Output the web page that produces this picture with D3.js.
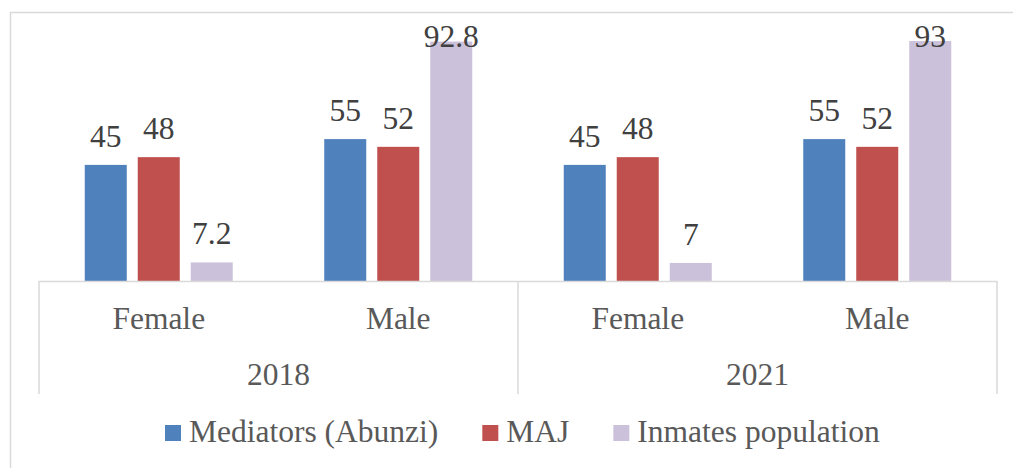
<!DOCTYPE html>
<html>
<head>
<meta charset="utf-8">
<script src="https://cdn.jsdelivr.net/npm/d3@7"></script>
</head>
<body style="margin:0">
<svg id="t" width="1013" height="468"></svg>
<script>
// data
const years = ['2018', '2021'];
const genders = ['Female', 'Male'];
const seriesNames = ['Mediators (Abunzi)', 'MAJ', 'Inmates population'];
const mediators = [45, 55, 45, 55];
const maj = [48, 52, 48, 52];
const inmates = [7.2, 92.8, 7, 93];
const colors = ['#4f81bd', '#c0504d', '#ccc1da'];

const fontFam = "'Liberation Serif', monospace";

// one row per year/gender
const cats = [];
years.forEach(yr => genders.forEach(gd => cats.push({ year: yr, gender: gd })));
const seriesValues = [mediators, maj, inmates];
const rows = cats.map((c, i) => ({
    key: c.year + '-' + c.gender,
    year: c.year,
    gender: c.gender,
    vals: seriesNames.map((s, j) => ({ name: s, value: seriesValues[j][i], color: colors[j] }))
}));

const svg = d3.select('#t');

// outer chart border (runs off right/bottom of the picture)
svg.append('path')
    .attr('d', 'M10.5,468V12.5H1013')
    .attr('fill', 'none')
    .attr('stroke', '#d9d9d9')
    .attr('stroke-width', 1.5);

const left = 39, right = 997, baseY = 281, topY = 23;

const x0 = d3.scaleBand()
    .domain(rows.map(d => d.key))
    .range([left, right])
    .padding(0);
const bw = x0.bandwidth();
const x1 = d3.scaleBand()
    .domain(seriesNames)
    .range([bw / 2 - 74, bw / 2 + 74])
    .paddingInner(11 / 53)
    .paddingOuter(0);
const y = d3.scaleLinear().domain([0, 100]).range([baseY, topY]);

// bars
const g = svg.selectAll('.cat')
    .data(rows)
    .enter()
    .append('g')
    .attr('class', 'cat')
    .attr('transform', d => `translate(${x0(d.key)},0)`);

g.selectAll('rect')
    .data(d => d.vals)
    .enter()
    .append('rect')
    .attr('x', d => x1(d.name))
    .attr('y', d => y(d.value))
    .attr('width', x1.bandwidth())
    .attr('height', d => y(0) - y(d.value))
    .attr('fill', d => d.color);

// axis lines
const lineColor = '#d9d9d9';
svg.append('line')
    .attr('x1', left).attr('x2', right)
    .attr('y1', baseY + 0.5).attr('y2', baseY + 0.5)
    .attr('stroke', lineColor).attr('stroke-width', 1.5);

const yearEdges = [left].concat(years.map(yr => x0(yr + '-' + genders[genders.length - 1]) + bw));
svg.selectAll('.sep')
    .data(yearEdges)
    .enter()
    .append('line')
    .attr('class', 'sep')
    .attr('x1', d => d).attr('x2', d => d)
    .attr('y1', baseY).attr('y2', 394)
    .attr('stroke', lineColor).attr('stroke-width', 1.5);

// value labels (kept inside the plot area like Excel does)
rows.forEach(r => {
    r.vals.forEach(v => {
        svg.append('text')
            .attr('x', x0(r.key) + x1(v.name) + x1.bandwidth() / 2)
            .attr('y', Math.max(y(v.value) - 18, 47))
            .attr('font-size', 31.5)
            .attr('fill', '#404040')
            .attr('text-anchor', 'middle')
            .style('font-family', fontFam)
            .text(v.value);
    });
});

// gender labels
rows.forEach(r => {
    svg.append('text')
        .attr('x', x0(r.key) + bw / 2)
        .attr('y', 329)
        .attr('font-size', 31.5)
        .attr('fill', '#595959')
        .attr('text-anchor', 'middle')
        .style('font-family', fontFam)
        .text(r.gender);
});

// year labels
years.forEach(yr => {
    svg.append('text')
        .attr('x', x0(yr + '-' + genders[0]) + bw)
        .attr('y', 385)
        .attr('font-size', 31.5)
        .attr('fill', '#595959')
        .attr('text-anchor', 'middle')
        .style('font-family', fontFam)
        .text(yr);
});

// legend
let lx = 165;
seriesNames.forEach((s, i) => {
    svg.append('rect')
        .attr('x', lx).attr('y', 425)
        .attr('width', 16).attr('height', 16)
        .attr('fill', colors[i]);
    const t = svg.append('text')
        .attr('x', lx + 24)
        .attr('y', 442)
        .attr('font-size', 31.5)
        .attr('fill', '#595959')
        .style('font-family', fontFam)
        .text(s);
    lx = lx + 24 + t.node().getComputedTextLength() + 44;
});
</script>
</body>
</html>
